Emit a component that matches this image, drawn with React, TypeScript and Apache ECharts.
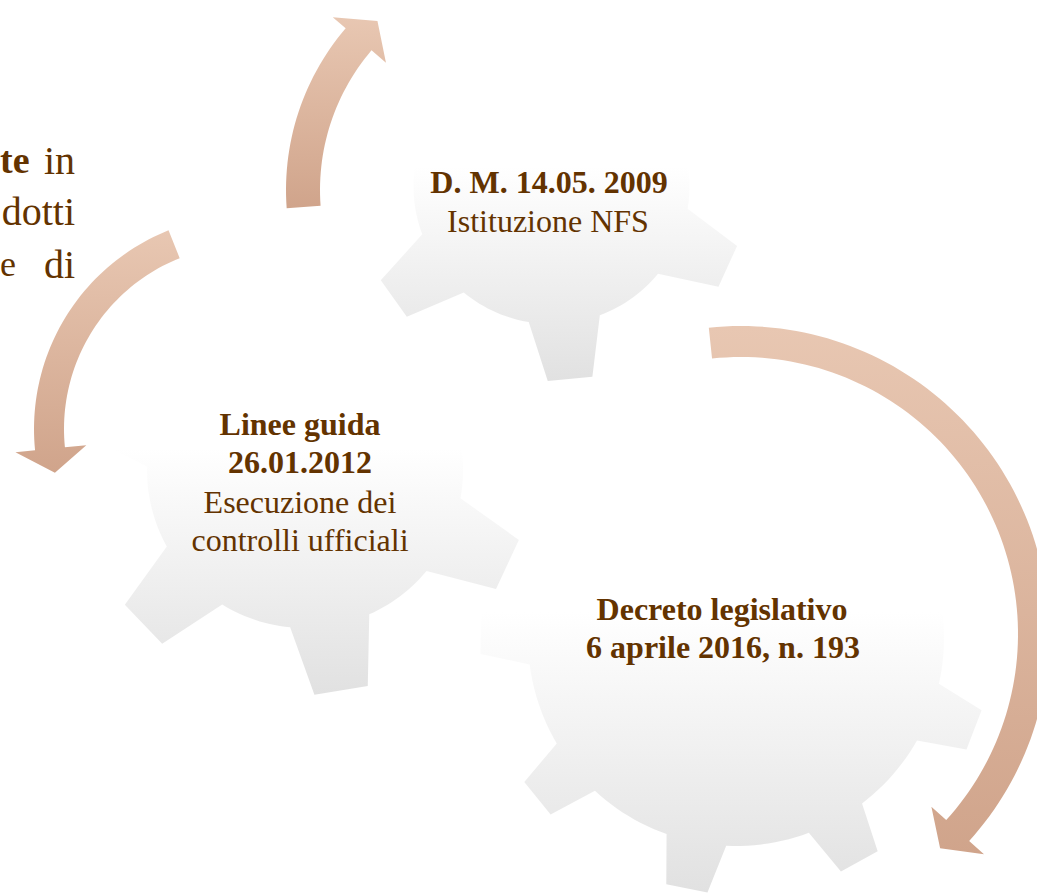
import React, { useEffect, useRef } from "react";
import * as echarts from "echarts";

// ---- Texts ----
const gear1Bold = ["D. M. 14.05. 2009"];
const gear1Plain = ["Istituzione NFS"];
const gear2Bold = ["Linee guida", "26.01.2012"];
const gear2Plain = ["Esecuzione dei", "controlli ufficiali"];
const gear3Bold = ["Decreto legislativo", "6 aprile 2016, n. 193"];
const sideLine1 = ["te", "in"];
const sideLine2 = ["dotti"];
const sideLine3 = ["e", "di"];

// ---- Gear teeth directions (degrees, screen angles) ----
const gear1Teeth = [24.5, 84.5, 144.5, 204.5, 264.5, 324.5];
const gear2Teeth = [25, 80.7, 136.3, 196, 256, 316];
const gear3Teeth = [21.1, 61.1, 101.1, 141.1, 181.1, 221.1, 261.1, 301.1, 341.1];

const TEXT_COLOR = "#633300";
const FONT = '"Liberation Serif", "Times New Roman", serif';

const rad = (d: number) => (d * Math.PI) / 180;
const P = (cx: number, cy: number, r: number, a: number) => [cx + r * Math.cos(rad(a)), cy + r * Math.sin(rad(a))];

function gearPoints(cx: number, cy: number, rBody: number, rTip: number, teeth: number[], baseHalf: number, tipHalf: number) {
  const pts: number[][] = [];
  const n = teeth.length;
  for (let i = 0; i < n; i++) {
    const a = teeth[i];
    pts.push(P(cx, cy, rBody, a - baseHalf));
    pts.push(P(cx, cy, rTip, a - tipHalf));
    pts.push(P(cx, cy, rTip, a + tipHalf));
    pts.push(P(cx, cy, rBody, a + baseHalf));
    let next = teeth[(i + 1) % n];
    if (i + 1 === n) next += 360;
    const s = a + baseHalf;
    const e = next - baseHalf;
    const steps = Math.max(2, Math.ceil((e - s) / 2));
    for (let k = 1; k < steps; k++) pts.push(P(cx, cy, rBody, s + ((e - s) * k) / steps));
  }
  return pts;
}

function arrowPoints(cx: number, cy: number, rIn: number, rOut: number, a0: number, a1: number, tipA: number, rbIn: number, rbOut: number, rTip: number) {
  const pts: number[][] = [];
  const steps = Math.ceil(Math.abs(a1 - a0) / 1.5);
  for (let k = 0; k <= steps; k++) pts.push(P(cx, cy, rOut, a0 + ((a1 - a0) * k) / steps));
  pts.push(P(cx, cy, rbOut, a1));
  pts.push(P(cx, cy, rTip, tipA));
  pts.push(P(cx, cy, rbIn, a1));
  for (let k = steps; k >= 0; k--) pts.push(P(cx, cy, rIn, a0 + ((a1 - a0) * k) / steps));
  return pts;
}

const gearFill = {
  type: "linear", x: 0, y: 0, x2: 0, y2: 1,
  colorStops: [
    { offset: 0, color: "#ffffff" },
    { offset: 0.45, color: "#ffffff" },
    { offset: 1, color: "#e1e1e1" },
  ],
};
const arrowFill = {
  type: "linear", x: 0, y: 0, x2: 0, y2: 1,
  colorStops: [
    { offset: 0, color: "#e8c7b2" },
    { offset: 1, color: "#d0a48b" },
  ],
};

function textEl(text: string, x: number, y: number, size: number, bold: boolean, align: string = "center") {
  return {
    type: "text",
    x, y,
    style: {
      text,
      fill: TEXT_COLOR,
      font: `${bold ? "bold " : ""}${size}px ${FONT}`,
      align,
      verticalAlign: "middle",
    },
    z: 10,
  };
}

export default function App() {
  const ref = useRef<HTMLDivElement>(null);
  useEffect(() => {
    if (!ref.current) return;
    const chart = echarts.init(ref.current, undefined, { renderer: "svg" });
    const elements: any[] = [];
    elements.push({ type: "polygon", shape: { points: gearPoints(305, 470, 158, 225, gear2Teeth, 14.7, 6.9) }, style: { fill: gearFill }, z: 1 });
    elements.push({ type: "polygon", shape: { points: gearPoints(736, 638, 208, 256, gear3Teeth, 8.4, 4.7) }, style: { fill: gearFill }, z: 2 });
    elements.push({ type: "polygon", shape: { points: gearPoints(551.5, 186, 138, 195, gear1Teeth, 15, 6.6) }, style: { fill: gearFill }, z: 3 });

    elements.push({ type: "polygon", shape: { points: arrowPoints(535, 190, 215, 249, 175.8, 220.5, 227, 196, 266, 231) }, style: { fill: arrowFill }, z: 5 });
    elements.push({ type: "polygon", shape: { points: arrowPoints(248, 429, 184, 214, 248.2, 174.3, 167.2, 162.5, 233.7, 198) }, style: { fill: arrowFill }, z: 5 });
    elements.push({ type: "polygon", shape: { points: arrowPoints(741, 634, 277, 308, 264, 402.2, 407.1, 257, 328, 292.5) }, style: { fill: arrowFill }, z: 5 });

    // gear 1 texts
    elements.push(textEl(gear1Bold[0], 549, 182, 32, true));
    elements.push(textEl(gear1Plain[0], 548, 220.5, 32, false));
    // gear 2 texts
    elements.push(textEl(gear2Bold[0], 300, 424, 32, true));
    elements.push(textEl(gear2Bold[1], 300, 462, 32, true));
    elements.push(textEl(gear2Plain[0], 300, 502, 32, false));
    elements.push(textEl(gear2Plain[1], 300, 540, 32, false));
    // gear 3 texts
    elements.push(textEl(gear3Bold[0], 722, 609, 32, true));
    elements.push(textEl(gear3Bold[1], 723, 646.5, 32, true));
    // side paragraph fragments
    elements.push(textEl(sideLine1[0], 0, 160, 38, true, "left"));
    elements.push(textEl(sideLine1[1], 75, 160, 40, false, "right"));
    elements.push(textEl(sideLine2[0], 75, 211, 40, false, "right"));
    elements.push(textEl(sideLine3[0], 0, 264, 36, false, "left"));
    elements.push(textEl(sideLine3[1], 75, 264, 40, false, "right"));

    chart.setOption({ animation: false, backgroundColor: "#ffffff", graphic: { elements } });
    return () => chart.dispose();
  }, []);
  return <div ref={ref} style={{ position: "absolute", left: 0, top: 0, width: 1037, height: 893 }} />;
}
